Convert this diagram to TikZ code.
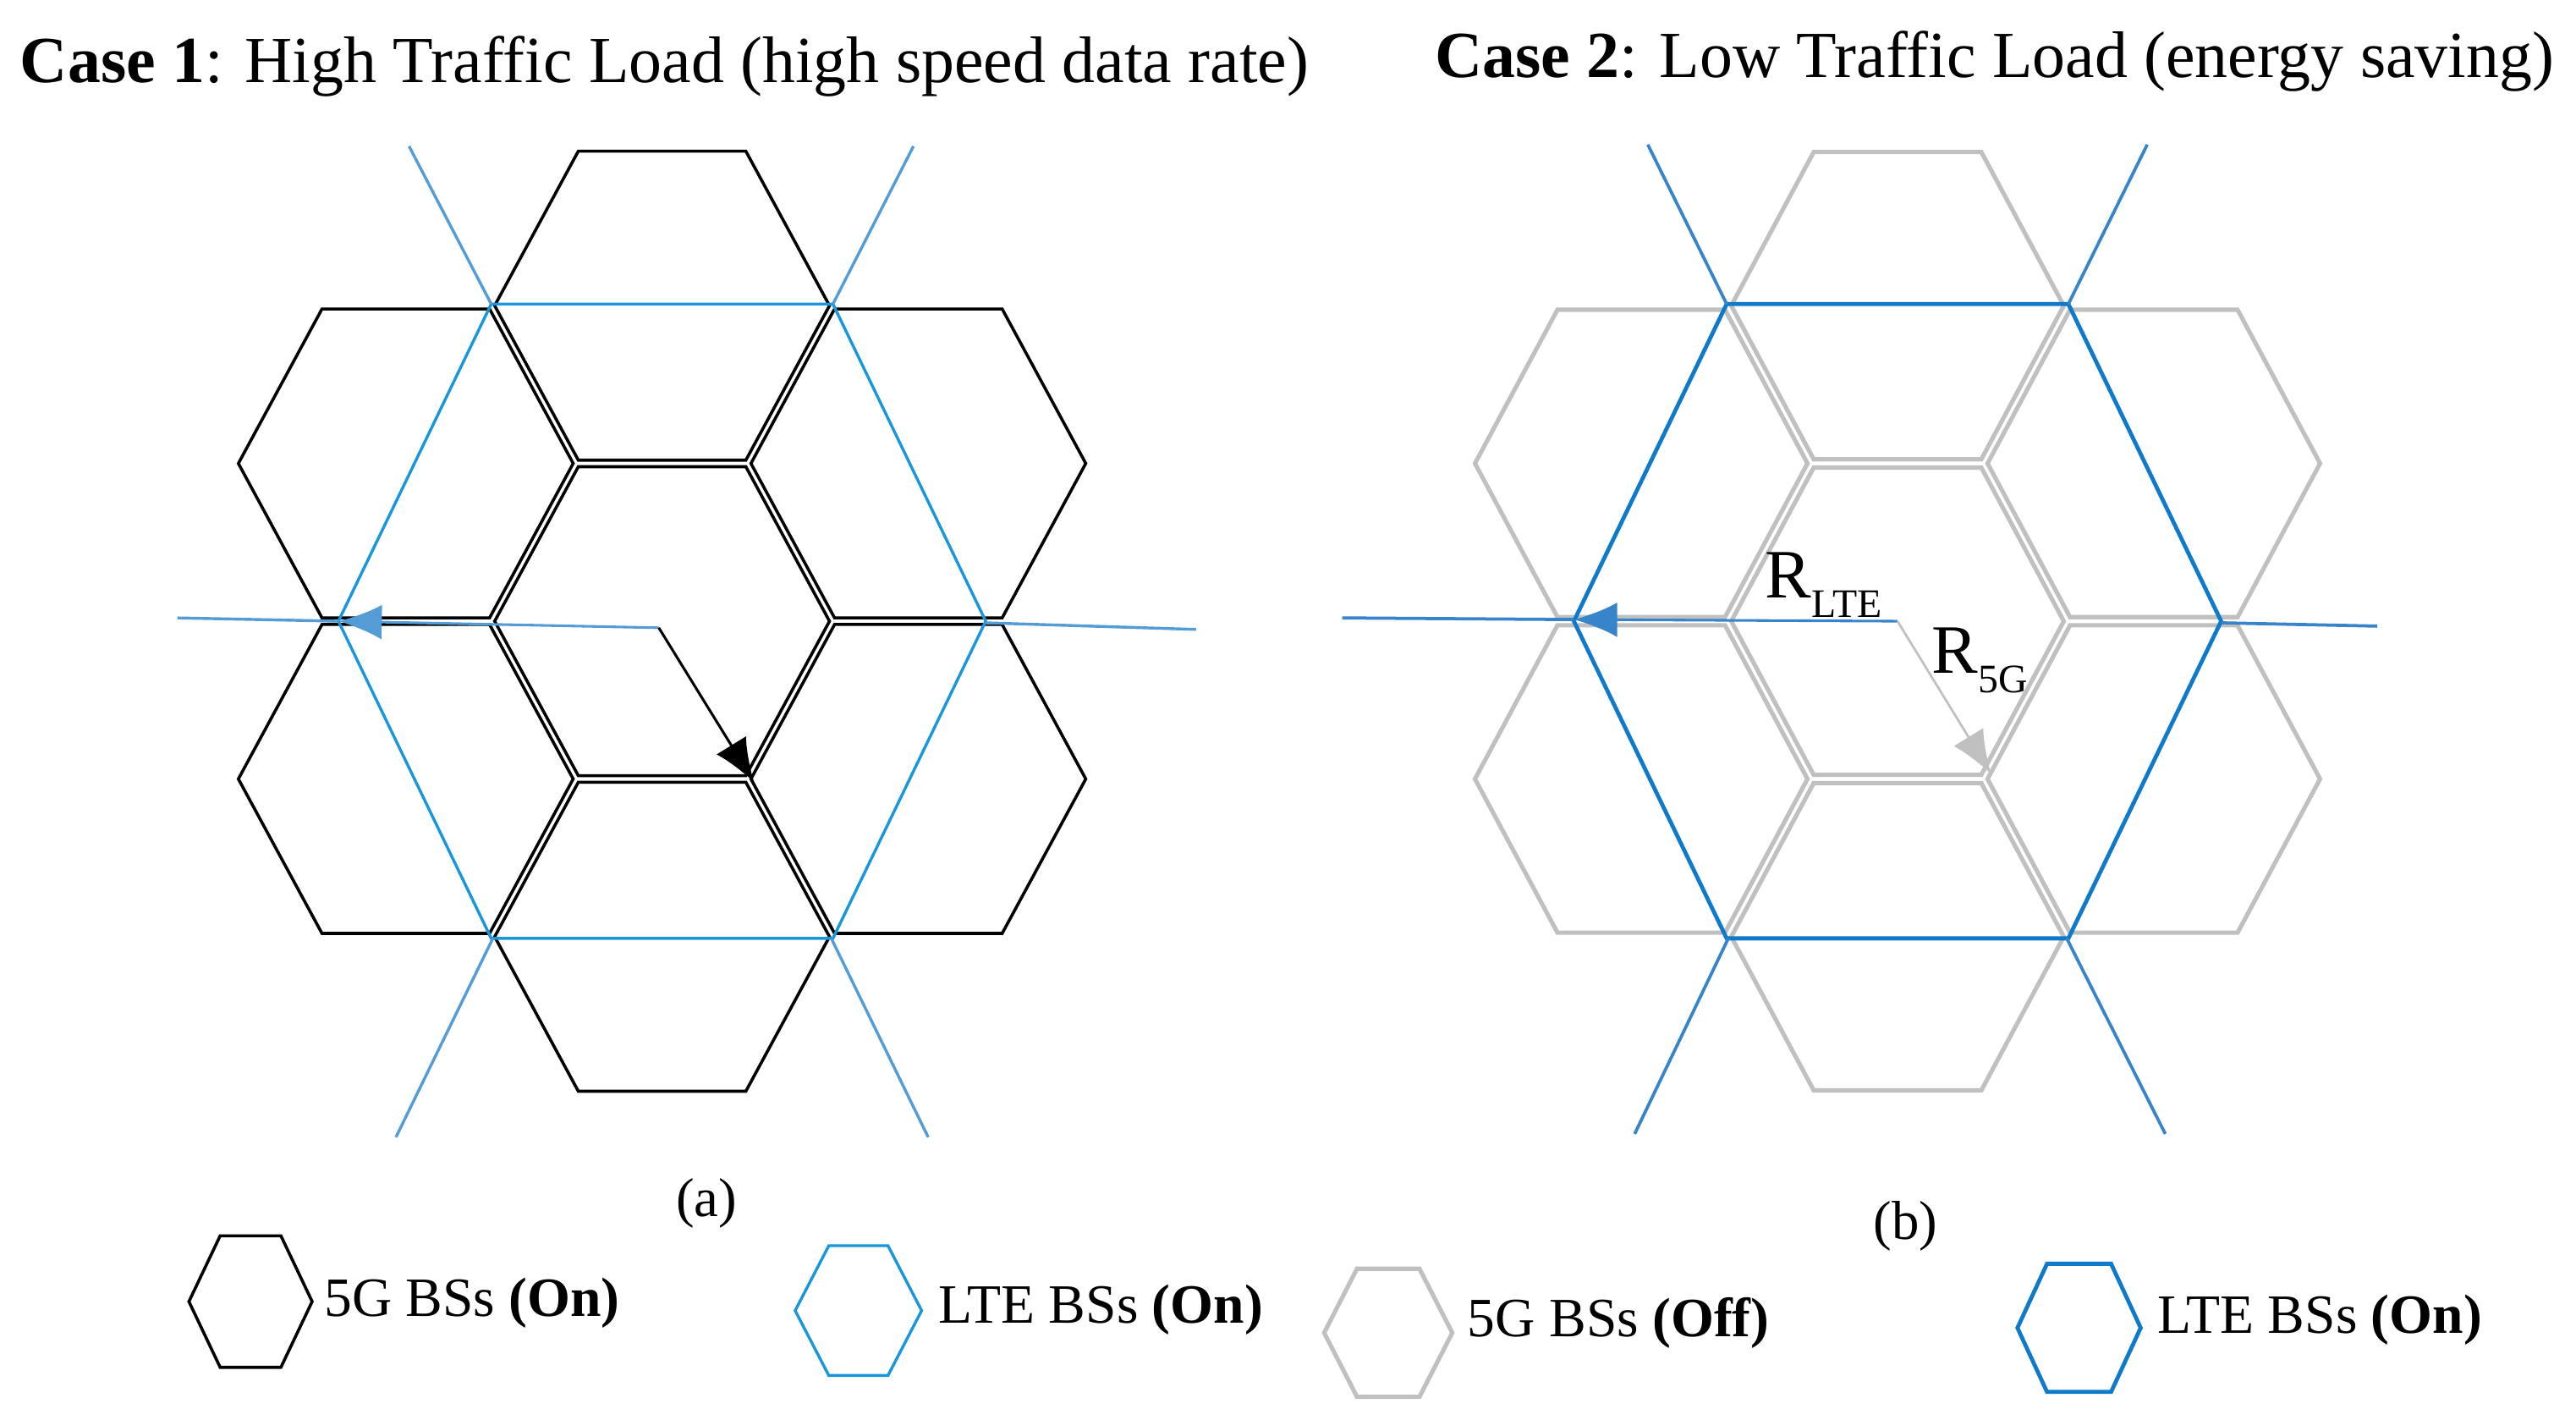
\documentclass[tikz,border=0pt]{standalone}
\usepackage{fontspec}
\setmainfont{Liberation Serif}
\usetikzlibrary{arrows.meta}

\definecolor{lteA}{RGB}{26,150,218}
\definecolor{stubA}{RGB}{84,156,214}
\definecolor{lteB}{RGB}{16,122,202}
\definecolor{stubB}{RGB}{56,132,202}
\definecolor{offgray}{RGB}{192,192,192}

% hexagon with flat top: style, centre x, centre y, half width, half height, half top edge
\newcommand{\hexcell}[6]{%
  \draw[#1] (#2+#4,#3) -- (#2+#6,#3-#5) -- (#2-#6,#3-#5) -- (#2-#4,#3)
    -- (#2-#6,#3+#5) -- (#2+#6,#3+#5) -- cycle;}

\tikzset{
  fivegon/.style={draw=black, line width=1.05pt},
  fivegoff/.style={draw=offgray, line width=1.5pt},
  ltea/.style={draw=lteA, line width=1.0pt},
  lteb/.style={draw=lteB, line width=1.4pt},
  stuba/.style={draw=stubA, line width=1.0pt},
  stubb/.style={draw=stubB, line width=1.1pt},
  radius/.style={line width=0.9pt, -{Latex[length=15pt,width=12pt]}},
  title/.style={font=\fontsize{22.8}{27}\selectfont, inner sep=0pt},
  keytext/.style={font=\fontsize{19.2}{23}\selectfont, inner sep=0pt, anchor=west},
  sublabel/.style={font=\fontsize{19}{22}\selectfont, inner sep=0pt}
}

\newcommand{\rlab}[1]{R\raisebox{-0.28em}{\fontsize{14}{14}\selectfont #1}}

\begin{document}
\begin{tikzpicture}[x=0.02cm, y=-0.02cm]
\useasboundingbox (0,0) rectangle (1568,864);

% titles
\node[title, anchor=base west] (title-a) at (12,50)
  {\textbf{Case 1}: High Traffic Load (high speed data rate)};
\node[title, anchor=base west] (title-b) at (873,47)
  {\textbf{Case 2}: Low Traffic Load (energy saving)};

% (a) high load: all cells on
\foreach \dx/\dy in {0/0, 0/-192, 0/192, -156/-96, 156/-96, -156/96, 156/96}
  \hexcell{fivegon}{403+\dx}{378+\dy}{101.9}{94}{51};
\hexcell{ltea}{403}{378}{197}{193}{104};
\draw[stuba] (299,185) -- (249,89);
\draw[stuba] (507,185) -- (556,89);
\draw[stuba] (300,571) -- (241,692);
\draw[stuba] (506,571) -- (565,692);
\draw[stuba] (206,378) -- (108,376);
\draw[stuba] (600,379) -- (728,383);

\coordinate (a-c) at (401,382);
\coordinate (a-lte) at (206,378);
\coordinate (a-5g) at (459,476);
\draw[radius, draw=stubA, fill=stubA] (a-c) -- (a-lte);
\draw[radius, draw=black, fill=black] (a-c) -- (a-5g);

% (b) low load: small cells off
\foreach \dx/\dy in {0/0, 0/-192, 0/192, -156/-96, 156/-96, -156/96, 156/96}
  \hexcell{fivegoff}{1155+\dx}{378+\dy}{101.2}{93.5}{51};
\hexcell{lteb}{1155}{378}{197}{193}{104};
\draw[stubb] (1051,185) -- (1003,88);
\draw[stubb] (1259,185) -- (1307,88);
\draw[stubb] (1052,571) -- (995,690);
\draw[stubb] (1258,571) -- (1318,690);
\draw[stubb] (958,377) -- (817,376);
\draw[stubb] (1352,379) -- (1447,381);

\coordinate (b-c) at (1155,378);
\coordinate (b-lte) at (958,377);
\coordinate (b-5g) at (1212,471);
\draw[radius, draw=stubB, fill=stubB] (b-c) -- (b-lte);
\draw[radius, line width=0.8pt, draw=offgray, fill=offgray] (b-c) -- (b-5g);
\node[font=\fontsize{24}{28}\selectfont, inner sep=0pt] (r-lte) at (1110,356) {\rlab{LTE}};
\node[font=\fontsize{24}{28}\selectfont, inner sep=0pt] (r-5g) at (1205,402) {\rlab{5G}};

% sub captions
\node[sublabel] (cap-a) at (430,732) {(a)};
\node[sublabel] (cap-b) at (1160,746) {(b)};

% legend
\hexcell{fivegon}{152.5}{792}{37.5}{40}{18.5};
\node[keytext] (key-5g-on) at (197,793) {5G BSs \textbf{(On)}};
\hexcell{ltea}{522.5}{797.5}{38.5}{39.5}{18};
\node[keytext] (key-lte-on-a) at (571,797) {LTE BSs \textbf{(On)}};
\hexcell{fivegoff}{845}{811}{39}{39}{19};
\node[keytext] (key-5g-off) at (893,805) {5G BSs \textbf{(Off)}};
\hexcell{lteb}{1265.5}{808}{37.5}{39}{19.5};
\node[keytext] (key-lte-on-b) at (1313,803) {LTE BSs \textbf{(On)}};
\end{tikzpicture}
\end{document}
